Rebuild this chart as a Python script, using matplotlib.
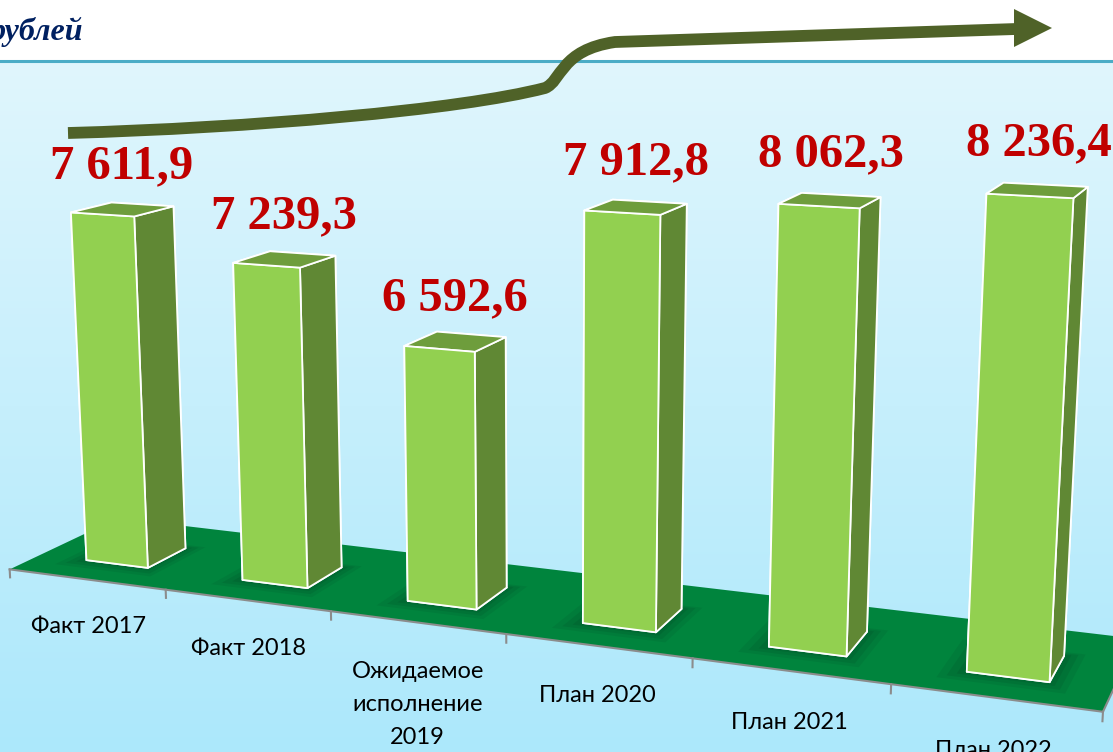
import numpy as np
import matplotlib
matplotlib.use("Agg")
import matplotlib.pyplot as plt
from matplotlib.path import Path
from matplotlib.patches import PathPatch, Polygon
from mpl_toolkits.mplot3d import proj3d
from mpl_toolkits.mplot3d.art3d import Poly3DCollection

# ---------------- data ----------------
categories = ["Факт 2017", "Факт 2018", "Ожидаемое\nисполнение\n2019",
              "План 2020", "План 2021", "План 2022"]
values = [7611.9, 7239.3, 6592.6, 7912.8, 8062.3, 8236.4]
value_labels = ["7 611,9", "7 239,3", "6 592,6", "7 912,8", "8 062,3", "8 236,4"]
unit_title = "рублей"

# ---------------- figure ----------------
W, H, DPI = 1113, 752, 100
fig = plt.figure(figsize=(W / DPI, H / DPI), dpi=DPI)
fig.patch.set_facecolor("white")

# background gradient + teal rule
bg = fig.add_axes([0, 0, 1, 1], zorder=0)
top_c = np.array([224, 246, 253]) / 255
bot_c = np.array([172, 232, 251]) / 255
t = np.linspace(0, 1, 256)[:, None]
grad = (top_c * (1 - t) + bot_c * t)[:, None, :]
bg.imshow(grad, extent=[0, W, H, 61], aspect="auto", interpolation="bicubic")
bg.plot([0, W], [61, 61], color="#4BACC6", lw=2.2)
bg.set_xlim(0, W)
bg.set_ylim(H, 0)
bg.axis("off")

# ---------------- 3D chart ----------------
n = len(values)
z_floor, z_top = 4200, 8400
k_u = 5.8e-4           # depth units per value unit
x_lo, x_hi = -0.5, n - 0.5
y_lo, y_hi = 0.0, 1.12
bar_w, bar_d, bar_y0 = 0.4, 0.41, 0.31

aspect = np.array([x_hi - x_lo, y_hi - y_lo, (z_top - z_floor) * k_u])
s = 1.8294640721620434 * 25 / 24 / np.linalg.norm(aspect)
eye_dist = 12.12
px_per_unit = 192.0
focal = eye_dist * s / 10
side = px_per_unit * 0.185 / (s / 10)
cx, cy = 547, H - 379
frac = 0.095 / 0.185
ax = fig.add_axes([(cx - frac * side) / W, (cy - frac * side) / H, side / W, side / H],
                  projection="3d", computed_zorder=False, zorder=1)
ax.set_box_aspect(aspect)
ax.set_proj_type("persp", focal_length=focal)
ax.view_init(elev=12.5, azim=-68.2)
ax.set_xlim(x_lo, x_hi)
ax.set_ylim(y_lo, y_hi)
ax.set_zlim(z_floor, z_top)
ax.set_axis_off()
ax.set_facecolor((1, 1, 1, 0))

# floor
floor = [[(x_lo, y_lo, z_floor), (x_hi, y_lo, z_floor),
          (x_hi, y_hi, z_floor), (x_lo, y_hi, z_floor)]]
ax.add_collection3d(Poly3DCollection(floor, facecolors="#00843D",
                                     edgecolors="none", zorder=1))
# soft shadows under bars
for i in range(n):
    for grow, al in ((0.12, 0.15), (0.08, 0.2), (0.04, 0.25)):
        x0 = i - bar_w / 2 - grow
        x1 = i + bar_w / 2 + grow * 0.8
        y0 = bar_y0 - grow * 1.1
        y1 = bar_y0 + bar_d + grow * 0.5
        ax.add_collection3d(Poly3DCollection(
            [[(x0, y0, z_floor), (x1, y0, z_floor), (x1, y1, z_floor), (x0, y1, z_floor)]],
            facecolors="#00502A", alpha=al, edgecolors="none", zorder=1.5))

# front edge with ticks
ax.plot([x_lo, x_hi], [0, 0], [z_floor, z_floor], color="#8C8C8C", lw=1.5, zorder=2)
ax.plot([x_hi, x_hi], [0, y_hi], [z_floor, z_floor], color="#8C8C8C", lw=1.5, zorder=2)
for xb in np.arange(x_lo, x_hi + 0.01, 1.0):
    ax.plot([xb, xb], [0, 0], [z_floor, z_floor - 80], color="#8C8C8C", lw=1.5, zorder=2)

# bars: faces (-z, +z, -y, +y, -x, +x)
face_cols = ["#92D050", "#6E9D3C", "#92D050", "#608834", "#92D050", "#608834"]
ax.bar3d(np.arange(n) - bar_w / 2, [bar_y0] * n, [z_floor] * n,
         [bar_w] * n, [bar_d] * n, [v - z_floor for v in values],
         color=face_cols * n, shade=False, edgecolor="white", linewidth=1.3, zorder=3)

# ---------------- overlay: labels, arrow, title ----------------
ov = fig.add_axes([0, 0, 1, 1], zorder=3)
ov.set_xlim(0, W)
ov.set_ylim(H, 0)
ov.axis("off")
ov.patch.set_alpha(0)

M = ax.get_proj()


def to_overlay(x, y, z):
    """Project a 3D data point of the chart to overlay (pixel) coordinates."""
    px, py, _ = proj3d.proj_transform(x, y, z, M)
    disp = ax.transData.transform((px, py))
    return ov.transData.inverted().transform(disp)


# value labels
for i, (v, lab) in enumerate(zip(values, value_labels)):
    lx, ly = to_overlay(i, bar_y0 + bar_d / 2, v + 200)
    ov.text(lx, ly, lab, ha="center", va="bottom",
            fontsize=35, fontweight="bold", family="Liberation Serif",
            color="#C00000", zorder=5)

# category labels
for i, cat in enumerate(categories):
    lx, ly = to_overlay(i, 0, z_floor - 360)
    ov.text(lx, ly, cat, ha="center", va="top", fontsize=17,
            family="Lato", linespacing=1.72, color="black", zorder=5)

verts = [(68, 133), (250, 128), (460, 110), (545, 88),
         (562, 81), (560, 50), (615, 42), (1016, 29)]
codes = [Path.MOVETO, Path.CURVE4, Path.CURVE4, Path.CURVE4,
         Path.CURVE4, Path.CURVE4, Path.CURVE4, Path.LINETO]
ov.add_patch(PathPatch(Path(verts, codes), fill=False, edgecolor="#4F6228",
                       lw=8.5, capstyle="butt"))
ov.add_patch(Polygon([(1014, 9), (1052, 28), (1014, 47)], closed=True,
                     facecolor="#4F6228", edgecolor="none"))
ov.text(83, 40, unit_title, ha="right", va="baseline", fontsize=23,
        fontweight="bold", fontstyle="italic", family="Liberation Serif",
        color="#002060")

fig.savefig("out.png", dpi=DPI)
